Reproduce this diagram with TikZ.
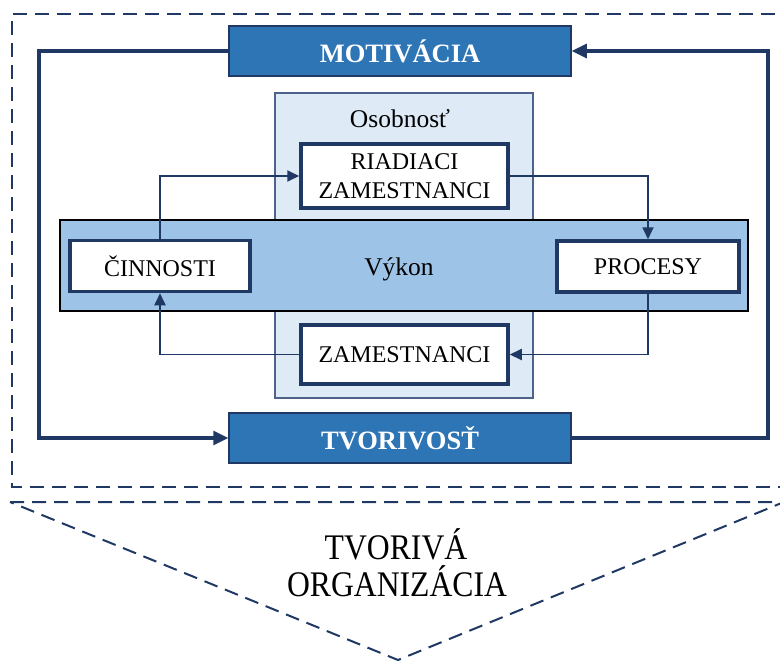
\documentclass[tikz,border=0pt]{standalone}
\usepackage{fontspec}
\setmainfont{Liberation Serif}
\newfontfamily\narrowserif[FakeStretch=0.88]{Liberation Serif}
\usetikzlibrary{arrows.meta}
\definecolor{navy}{HTML}{203864}
\definecolor{midblue}{HTML}{2E75B6}
\definecolor{bandblue}{HTML}{9DC3E6}
\definecolor{paleblue}{HTML}{DEEBF7}
\definecolor{slateblue}{HTML}{4F6289}
\begin{document}
\begin{tikzpicture}[x=1pt,y=-1pt,
  strongbox/.style={draw=navy, line width=1.5pt, fill=midblue, text=white,
    font=\fontsize{26.5}{30}\selectfont\bfseries,
    minimum width=342pt, minimum height=50pt, inner sep=0pt},
  whitebox/.style={draw=navy, line width=3.5pt, fill=white,
    font=\fontsize{24}{29}\selectfont, inner sep=0pt, align=center},
  flow/.style={draw=navy, line width=1.8pt, -{Triangle[length=12pt,width=11pt]}},
  loopline/.style={draw=navy, line width=3.2pt, -{Triangle[length=15pt,width=14pt]}},
  frameline/.style={draw=navy, line width=2pt, dash pattern=on 14pt off 8pt},
  label/.style={inner sep=0pt, font=\fontsize{25.5}{29}\selectfont}
]
\useasboundingbox (0,0) rectangle (780,661);

% outer dashed frame (open on the right) and the funnel below it
\draw[frameline] (792,487) -- (12,487) -- (12,14) -- (792,14);
\draw[frameline] (10,502) -- (784,502) -- (398,660) -- cycle;
\node[anchor=base, inner sep=0pt, font=\narrowserif\fontsize{36}{37}\selectfont] (org1) at (396,559) {TVORIVÁ};
\node[anchor=base, inner sep=0pt, font=\narrowserif\fontsize{36}{37}\selectfont] (org2) at (397,596) {ORGANIZÁCIA};

% personality field and performance band
\node[draw=slateblue, line width=1.2pt, fill=paleblue, minimum width=258pt,
      minimum height=305pt, inner sep=0pt] (osob) at (404,245.5) {};
\node[label, anchor=base] (osobtxt) at (400,128) {Osobnosť};
\node[draw=black, line width=1.2pt, fill=bandblue, minimum width=688pt,
      minimum height=91pt, inner sep=0pt] (band) at (404,265.5) {};
\node[label] (vykon) at (399,269) {Výkon};

% top and bottom banners
\node[strongbox] (mot) at (400,51) {MOTIVÁCIA};
\node[strongbox] (tvo) at (400,438) {TVORIVOSŤ};

% inner boxes
\node[whitebox, minimum width=207pt, minimum height=64pt] (riad) at (404.5,176) {RIADIACI\\ZAMESTNANCI};
\node[whitebox, minimum width=180pt, minimum height=51pt] (cin) at (160,266) {ČINNOSTI};
\node[whitebox, minimum width=182pt, minimum height=51pt] (proc) at (648,266.5) {PROCESY};
\node[whitebox, minimum width=207pt, minimum height=59pt] (zam) at (404.5,354.5) {ZAMESTNANCI};

% inner cycle
\draw[flow] (cin.north) |- (riad.west);
\draw[flow] (riad.east) -| (proc.north);
\draw[flow] (proc.south) |- (zam.east);
\draw[flow] (zam.west) -| (cin.south);

% outer loop between motivation and creativity
\coordinate (lx) at (39,0);
\coordinate (rx) at (768,0);
\draw[loopline] (mot.west) -- (mot.west -| lx) -- (tvo.west -| lx) -- (tvo.west);
\draw[loopline] (tvo.east) -- (tvo.east -| rx) -- (mot.east -| rx) -- (mot.east);
\end{tikzpicture}
\end{document}
